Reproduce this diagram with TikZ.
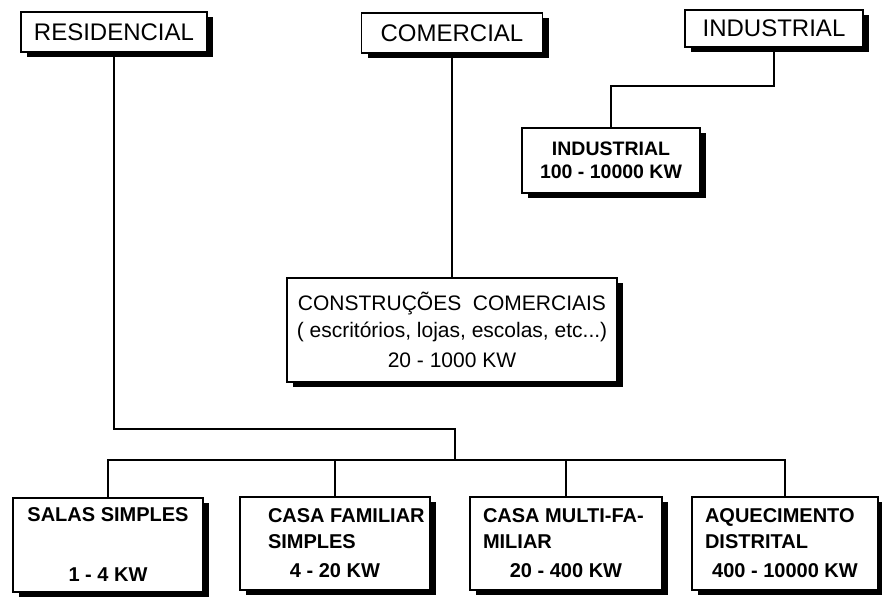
\documentclass[tikz,border=0pt]{standalone}
\usepackage{fontspec}
\setmainfont{Liberation Sans}
\usetikzlibrary{shadows}
\newcommand{\ratingtext}[3]{\parbox{#1}{\raggedright #2\par\vspace{3pt}\centering #3\par}}
\begin{document}
\begin{tikzpicture}[x=1pt,y=-1pt,
  box/.style={draw,line width=1.8pt,fill=white,inner sep=0pt,
    drop shadow={shadow xshift=6pt,shadow yshift=-5pt,fill=black,opacity=1}},
  head/.style={box,minimum height=40,font=\fontsize{24}{28}\selectfont},
  rating/.style={box,minimum height=93,font=\fontsize{20}{26}\selectfont\bfseries},
  link/.style={line width=1.8pt}
]
\useasboundingbox (0,0) rectangle (882,597);

% Sectors on top.
\node[head,minimum width=186] (res) at (114,32) {RESIDENCIAL};
\node[head,minimum width=181] (com) at (452,33) {COMERCIAL};
\node[head,minimum width=178,minimum height=37] (indtop) at (774,28.5) {INDUSTRIAL};

% Industrial and commercial ranges.
\node[box,minimum width=178,minimum height=65,align=center,
  font=\fontsize{19.5}{23}\selectfont\bfseries] (ind) at (611,160.5)
  {INDUSTRIAL\\100 - 10000 KW};
\node[box,minimum width=330,minimum height=104,align=center,
  font=\fontsize{21}{27}\selectfont] (cons) at (452,330)
  {CONSTRUÇÕES~~COMERCIAIS\\( escritórios, lojas, escolas, etc...)\\[3pt]20 - 1000 KW};

% Residential ranges.
\node[rating,minimum width=190,minimum height=94,align=center] (salas) at (108,545)
  {SALAS SIMPLES\\[34pt]1 - 4 KW};
\node[rating,minimum width=190] (fam) at (335,543.5)
  {\ratingtext{176pt}{\hspace*{21pt}\mbox{CASA FAMILIAR}\\\hspace*{21pt}SIMPLES}{4 - 20 KW}};
\node[rating,minimum width=192] (multi) at (566,543.5)
  {\ratingtext{166pt}{CASA MULTI-FA-\\MILIAR}{20 - 400 KW}};
\node[rating,minimum width=186] (aquec) at (785,543.5)
  {\ratingtext{160pt}{AQUECIMENTO\\DISTRITAL}{400 - 10000 KW}};

\coordinate (bus) at (455,460);
\draw[link] (res.south) -- ++(0,376) -| (bus);
\draw[link] (salas.north) |- (bus) -| (aquec.north);
\draw[link] (fam.north |- bus) -- (fam.north);
\draw[link] (multi.north |- bus) -- (multi.north);
\draw[link] (com.south) -- (cons.north);
\draw[link] (indtop.south) -- ++(0,38) -| (ind.north);
\end{tikzpicture}
\end{document}
